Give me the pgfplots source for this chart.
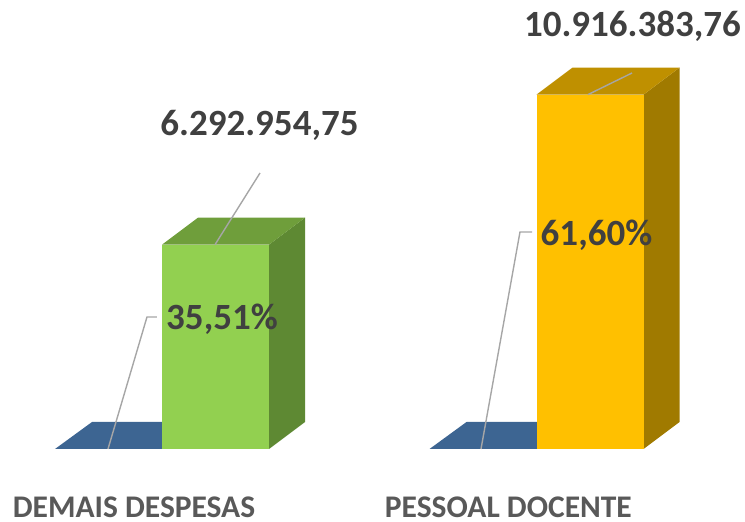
\documentclass[border=0pt]{standalone}
\usepackage{pgfplots}
\pgfplotsset{compat=1.18}
\usepackage{fontspec}
\setmainfont{Carlito}
\definecolor{gfront}{HTML}{92D050}
\definecolor{gtop}{HTML}{6F9E3B}
\definecolor{gside}{HTML}{5E8933}
\definecolor{yfront}{HTML}{FFC000}
\definecolor{ytop}{HTML}{BF9000}
\definecolor{yside}{HTML}{A07A00}
\definecolor{bfront}{HTML}{3D6592}
\definecolor{vtext}{HTML}{404040}
\definecolor{ctext}{HTML}{595959}
\definecolor{leader}{HTML}{A6A6A6}
\begin{document}
\begin{tikzpicture}
\begin{axis}[
  scale only axis, width=745bp, height=522bp,
  xmin=-0.43258, xmax=1.55674,
  ymin=-2248400, ymax=13829200,
  hide axis, clip=false,
]
% bounding
\addplot[draw=none] coordinates {(-0.43258,-2248400) (1.55674,13829200)};
% blue flat bars (percent series, ~0 height)
\addplot[fill=bfront, draw=none] coordinates {(-0.28571,0) (-0.18691,831600) (0.09613,831600) (0,0)} -- cycle;
\addplot[fill=bfront, draw=none] coordinates {(0.71429,0) (0.81309,831600) (1.09613,831600) (1,0)} -- cycle;
% green bar 6292954.75
\addplot[fill=gside, draw=none] coordinates {(0.28571,0) (0.38184,831600) (0.38184,7124554.75) (0.28571,6292954.75)} -- cycle;
\addplot[fill=gtop, draw=none] coordinates {(0,6292954.75) (0.09613,7124554.75) (0.38184,7124554.75) (0.28571,6292954.75)} -- cycle;
\addplot[fill=gfront, draw=none] coordinates {(0,0) (0.28571,0) (0.28571,6292954.75) (0,6292954.75)} -- cycle;
% yellow bar 10916383.76
\addplot[fill=yside, draw=none] coordinates {(1.28571,0) (1.38184,831600) (1.38184,11747983.76) (1.28571,10916383.76)} -- cycle;
\addplot[fill=ytop, draw=none] coordinates {(1,10916383.76) (1.09613,11747983.76) (1.38184,11747983.76) (1.28571,10916383.76)} -- cycle;
\addplot[fill=yfront, draw=none] coordinates {(1,0) (1.28571,0) (1.28571,10916383.76) (1,10916383.76)} -- cycle;
% leader lines
\addplot[leader, line width=1.4bp] coordinates {(0.1415,6292954.75) (0.2617,8500800)};
\addplot[leader, line width=1.4bp] coordinates {(1.1375,10916383.76) (1.2550,11580800)};
\addplot[leader, line width=1.4bp] coordinates {(-0.1442,0) (-0.0401,4065600) (-0.0134,4065600)};
\addplot[leader, line width=1.4bp] coordinates {(0.8518,0) (0.9559,6683600) (0.9880,6683600)};
% labels
\node[vtext, inner sep=0pt, font=\fontsize{37bp}{42bp}\selectfont\bfseries] at (axis cs:0.2603,9963800) {6.292.954,75};
\node[vtext, inner sep=0pt, font=\fontsize{37bp}{42bp}\selectfont\bfseries] at (axis cs:1.2563,13028400) {10.916.383,76};
\node[vtext, inner sep=0pt, font=\fontsize{37bp}{42bp}\selectfont\bfseries] at (axis cs:0.1602,3988600) {35,51\%};
\node[vtext, inner sep=0pt, font=\fontsize{37bp}{42bp}\selectfont\bfseries] at (axis cs:1.1602,6591200) {61,60\%};
\node[ctext, inner sep=0pt, anchor=base, font=\fontsize{31.5bp}{36bp}\selectfont\bfseries] at (axis cs:-0.0748,-2103640) {DEMAIS DESPESAS};
\node[ctext, inner sep=0pt, anchor=base, font=\fontsize{31.5bp}{36bp}\selectfont\bfseries] at (axis cs:0.925,-2103640) {PESSOAL DOCENTE};
\end{axis}
\pgfresetboundingbox
\path (current axis.south west) rectangle (current axis.north east);
\end{tikzpicture}
\end{document}
